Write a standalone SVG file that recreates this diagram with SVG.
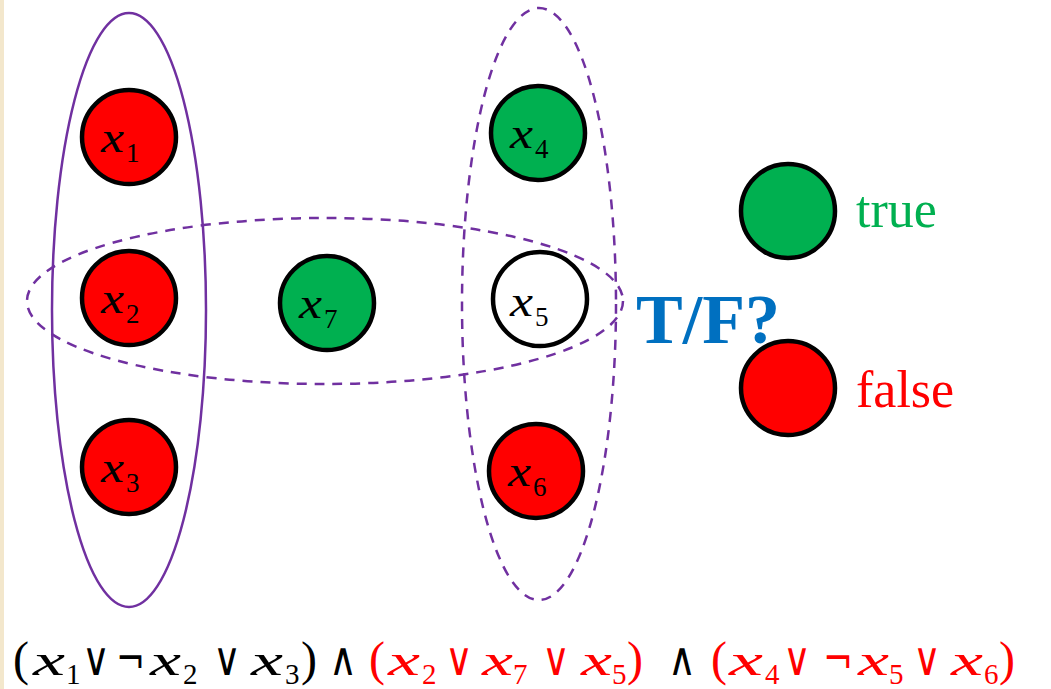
<svg xmlns="http://www.w3.org/2000/svg" width="1051" height="689" viewBox="0 0 1051 689">
<style>
.n{stroke:#000;stroke-width:4.5}
.r{fill:#FF0000}
.g{fill:#00B050}
.w{fill:#fff}
.nx{font-family:"Liberation Serif",serif;font-style:italic;font-size:44px;fill:#000}
.ns{font-family:"Liberation Serif",serif;font-size:27px;fill:#000}
.grp{fill:none;stroke:#7030A0;stroke-width:2.5}
.dash{stroke-dasharray:10 8}
.fx{font-family:"Liberation Serif",serif;font-style:italic;font-size:45px}
.fs{font-family:"Liberation Serif",serif;font-size:29px}
.fp{font-family:"Liberation Serif",serif;font-size:48px}
.op{font-family:"DejaVu Sans",sans-serif;font-size:46px}
.k{fill:#000}
.rd{fill:#FF0000}
</style>
<rect x="0" y="0" width="1051" height="689" fill="#fff"/>
<rect x="0" y="0" width="4" height="689" fill="#F3E7CC"/>
<g id="connectors">
<ellipse class="grp" cx="129" cy="310" rx="77" ry="297"/>
<ellipse class="grp dash" cx="539" cy="304" rx="77" ry="296"/>
<ellipse class="grp dash" cx="325" cy="301" rx="298" ry="83"/>
</g>
<g id="x1"><circle class="n r" cx="129" cy="137" r="47"/><text class="nx" x="101" y="152" textLength="23" lengthAdjust="spacingAndGlyphs">x</text><text class="ns" x="126" y="162">1</text></g>
<g id="x2"><circle class="n r" cx="129" cy="298" r="47"/><text class="nx" x="101" y="313" textLength="23" lengthAdjust="spacingAndGlyphs">x</text><text class="ns" x="126" y="323">2</text></g>
<g id="x3"><circle class="n r" cx="129" cy="467" r="47"/><text class="nx" x="101" y="482" textLength="23" lengthAdjust="spacingAndGlyphs">x</text><text class="ns" x="126" y="492">3</text></g>
<g id="x7"><circle class="n g" cx="327" cy="303" r="47"/><text class="nx" x="299" y="318" textLength="23" lengthAdjust="spacingAndGlyphs">x</text><text class="ns" x="324" y="328">7</text></g>
<g id="x4"><circle class="n g" cx="538" cy="133" r="47"/><text class="nx" x="510" y="148" textLength="23" lengthAdjust="spacingAndGlyphs">x</text><text class="ns" x="535" y="158">4</text></g>
<g id="x5"><circle class="n w" cx="540" cy="299" r="47"/><text class="nx" x="510" y="316" textLength="23" lengthAdjust="spacingAndGlyphs">x</text><text class="ns" x="535" y="326">5</text></g>
<g id="x6"><circle class="n r" cx="536" cy="471" r="47"/><text class="nx" x="508" y="486" textLength="23" lengthAdjust="spacingAndGlyphs">x</text><text class="ns" x="533" y="496">6</text></g>
<g id="tf"><text x="636" y="343" font-family="Liberation Serif,serif" font-weight="bold" font-size="70" fill="#0070C0">T/F?</text></g>
<g id="legend-true"><circle class="n g" cx="788" cy="211" r="47"/><text x="856" y="227" font-family="Liberation Serif,serif" font-size="52" fill="#00B050">true</text></g>
<g id="legend-false"><circle class="n r" cx="788" cy="388" r="47"/><text x="856" y="407" font-family="Liberation Serif,serif" font-size="52" fill="#FF0000">false</text></g>
<g id="formula">
<text class="fp k" x="13" y="675">(</text>
<text class="fx k" x="33" y="675" textLength="32" lengthAdjust="spacingAndGlyphs">x</text>
<text class="fs k" x="66" y="684">1</text>
<text class="op k" x="82" y="675" textLength="28" lengthAdjust="spacingAndGlyphs">∨</text>
<text class="op k" x="116" y="675" textLength="29" lengthAdjust="spacingAndGlyphs">¬</text>
<text class="fx k" x="150" y="675" textLength="31" lengthAdjust="spacingAndGlyphs">x</text>
<text class="fs k" x="183" y="684">2</text>
<text class="op k" x="213" y="675" textLength="28" lengthAdjust="spacingAndGlyphs">∨</text>
<text class="fx k" x="251" y="675" textLength="32" lengthAdjust="spacingAndGlyphs">x</text>
<text class="fs k" x="285" y="684">3</text>
<text class="fp k" x="301" y="675">)</text>
<text class="op k" x="329" y="675" textLength="28" lengthAdjust="spacingAndGlyphs">∧</text>
<text class="fp rd" x="369" y="675">(</text>
<text class="fx rd" x="388" y="675" textLength="32" lengthAdjust="spacingAndGlyphs">x</text>
<text class="fs rd" x="422" y="684">2</text>
<text class="op rd" x="445" y="675" textLength="28" lengthAdjust="spacingAndGlyphs">∨</text>
<text class="fx rd" x="482" y="675" textLength="31" lengthAdjust="spacingAndGlyphs">x</text>
<text class="fs rd" x="513" y="684">7</text>
<text class="op rd" x="542" y="675" textLength="28" lengthAdjust="spacingAndGlyphs">∨</text>
<text class="fx rd" x="581" y="675" textLength="31" lengthAdjust="spacingAndGlyphs">x</text>
<text class="fs rd" x="612" y="684">5</text>
<text class="fp rd" x="627" y="675">)</text>
<text class="op k" x="668" y="675" textLength="28" lengthAdjust="spacingAndGlyphs">∧</text>
<text class="fp rd" x="711" y="675">(</text>
<text class="fx rd" x="729" y="675" textLength="34" lengthAdjust="spacingAndGlyphs">x</text>
<text class="fs rd" x="765" y="684">4</text>
<text class="op rd" x="783" y="675" textLength="28" lengthAdjust="spacingAndGlyphs">∨</text>
<text class="op rd" x="823" y="675" textLength="30" lengthAdjust="spacingAndGlyphs">¬</text>
<text class="fx rd" x="858" y="675" textLength="31" lengthAdjust="spacingAndGlyphs">x</text>
<text class="fs rd" x="889" y="684">5</text>
<text class="op rd" x="913" y="675" textLength="28" lengthAdjust="spacingAndGlyphs">∨</text>
<text class="fx rd" x="951" y="675" textLength="32" lengthAdjust="spacingAndGlyphs">x</text>
<text class="fs rd" x="984" y="684">6</text>
<text class="fp rd" x="999" y="675">)</text>
</g>
</svg>
